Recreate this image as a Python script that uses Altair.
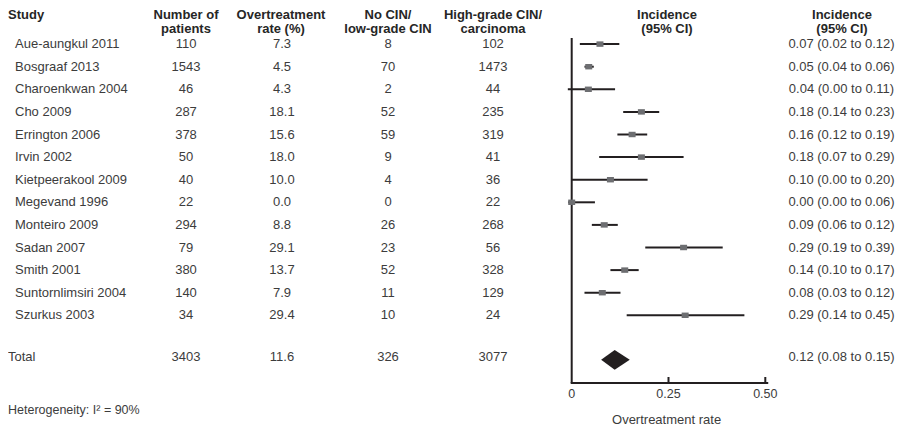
import altair as alt
import pandas as pd

# ---------------- data ----------------
studies = ["Aue-aungkul 2011", "Bosgraaf 2013", "Charoenkwan 2004", "Cho 2009",
           "Errington 2006", "Irvin 2002", "Kietpeerakool 2009", "Megevand 1996",
           "Monteiro 2009", "Sadan 2007", "Smith 2001", "Suntornlimsiri 2004",
           "Szurkus 2003"]
patients = [110, 1543, 46, 287, 378, 50, 40, 22, 294, 79, 380, 140, 34]
overtreat = [7.3, 4.5, 4.3, 18.1, 15.6, 18.0, 10.0, 0.0, 8.8, 29.1, 13.7, 7.9, 29.4]
no_cin = [8, 70, 2, 52, 59, 9, 4, 0, 26, 23, 52, 11, 10]
high_grade = [102, 1473, 44, 235, 319, 41, 36, 22, 268, 56, 328, 129, 24]
inc_est = [0.073, 0.044, 0.043, 0.180, 0.156, 0.180, 0.100, 0.000, 0.084, 0.289, 0.137, 0.079, 0.293]
inc_lo = [0.021, 0.033, -0.010, 0.133, 0.118, 0.071, 0.000, -0.009, 0.052, 0.190, 0.100, 0.033, 0.142]
inc_hi = [0.123, 0.057, 0.112, 0.226, 0.195, 0.289, 0.196, 0.060, 0.119, 0.390, 0.173, 0.126, 0.446]
inc_text = ["0.07 (0.02 to 0.12)", "0.05 (0.04 to 0.06)", "0.04 (0.00 to 0.11)",
            "0.18 (0.14 to 0.23)", "0.16 (0.12 to 0.19)", "0.18 (0.07 to 0.29)",
            "0.10 (0.00 to 0.20)", "0.00 (0.00 to 0.06)", "0.09 (0.06 to 0.12)",
            "0.29 (0.19 to 0.39)", "0.14 (0.10 to 0.17)", "0.08 (0.03 to 0.12)",
            "0.29 (0.14 to 0.45)"]

total_name = ["Total"]
total_patients = [3403]
total_overtreat = [11.6]
total_no_cin = [326]
total_high_grade = [3077]
total_est = [0.111]
total_lo = [0.076]
total_hi = [0.150]
total_text = ["0.12 (0.08 to 0.15)"]

heterogeneity = "Heterogeneity: I\u00b2 = 90%"
axis_values = [0, 0.25, 0.5]
axis_labels = ["0", "0.25", "0.50"]
axis_title = "Overtreatment rate"

# ---------------- tables ----------------
TOTAL_ROW = 13.85
rows = pd.DataFrame({
    "row": list(range(len(studies))),
    "study": studies,
    "n": [str(v) for v in patients],
    "rate": [f"{v:.1f}" for v in overtreat],
    "nocin": [str(v) for v in no_cin],
    "hg": [str(v) for v in high_grade],
    "est": inc_est, "lo": inc_lo, "hi": inc_hi,
    "ci": inc_text,
})
tot = pd.DataFrame({
    "row": [TOTAL_ROW],
    "study": total_name,
    "n": [str(v) for v in total_patients],
    "rate": [f"{v:.1f}" for v in total_overtreat],
    "nocin": [str(v) for v in total_no_cin],
    "hg": [str(v) for v in total_high_grade],
    "ci": total_text,
})
DC = 13.97  # vertical centre of the summary diamond, in row units
DH = 0.44   # half height of the summary diamond, in row units
diamond = pd.DataFrame({
    "x": [total_lo[0], total_est[0], total_hi[0]],
    "y": [DC, DC - DH, DC],
    "y2": [DC, DC + DH, DC],
})
ticks = pd.DataFrame({"v": axis_values, "lab": axis_labels})
one = pd.DataFrame({"a": [0]})

# ---------------- styles ----------------
FONT = "Liberation Sans, Arial, Helvetica, sans-serif"
TXT = "#3c3c3c"
HDR = "#262626"
INK = "#231f20"
BOX = "#6d6e71"

xs = alt.Scale(domain=[0, 0.5], range=[563.7, 757.3], nice=False, zero=False)
ys = alt.Scale(domain=[0, 12], range=[36.1, 307.3], nice=False, zero=False)
Y = alt.Y("row:Q", scale=ys, axis=None)
AXIS_Y = 375


def col(df, field, px, align="center"):
    return alt.Chart(df).mark_text(
        align=align, baseline="middle", fontSize=13, font=FONT, color=TXT
    ).encode(x=alt.value(px), y=Y, text=f"{field}:N")


def header(text, px, align="center"):
    return alt.Chart(one).mark_text(
        text=text, lineBreak="\n", lineHeight=14, align=align, baseline="middle",
        fontSize=13, font=FONT, fontWeight="bold", color=HDR
    ).encode(x=alt.value(px), y=alt.value(6.5))


layers = []
# headers
layers += [
    header("Study", 0, "left"),
    header("Number of\npatients", 178),
    header("Overtreatment\nrate (%)", 273),
    header("No CIN/\nlow-grade CIN", 380),
    header("High-grade CIN/\ncarcinoma", 485),
    header("Incidence\n(95% CI)", 659),
    header("Incidence\n(95% CI)", 834),
]
# table columns
layers += [col(rows, "study", 7, "left"), col(tot, "study", 0, "left")]
for d in (rows, tot):
    layers += [col(d, "n", 178), col(d, "rate", 274), col(d, "nocin", 380),
               col(d, "hg", 485), col(d, "ci", 833.5)]

# forest: zero line
layers.append(alt.Chart(one).mark_rule(color=INK, strokeWidth=2).encode(
    x=alt.X(datum=0, type="quantitative", scale=xs, axis=None),
    y=alt.value(30), y2=alt.value(AXIS_Y)))
# axis line
layers.append(alt.Chart(one).mark_rule(color=INK, strokeWidth=2, strokeCap="square").encode(
    x=alt.X(datum=0, type="quantitative", scale=xs, axis=None),
    x2=alt.X2(datum=0.505),
    y=alt.value(AXIS_Y)))
# inward ticks
layers.append(alt.Chart(ticks).transform_filter("datum.v > 0").mark_rule(
    color=INK, strokeWidth=2).encode(
    x=alt.X("v:Q", scale=xs, axis=None),
    y=alt.value(AXIS_Y - 6), y2=alt.value(AXIS_Y)))
# tick labels
layers.append(alt.Chart(ticks).mark_text(
    baseline="middle", align="center", fontSize=12.5, font=FONT, color=TXT).encode(
    x=alt.X("v:Q", scale=xs, axis=None), y=alt.value(386), text="lab:N"))
# axis title
layers.append(alt.Chart(one).mark_text(
    text=axis_title, baseline="alphabetic", align="center", fontSize=13, font=FONT,
    color=TXT).encode(
    x=alt.X(datum=0.245, type="quantitative", scale=xs, axis=None), y=alt.value(415.5)))
# heterogeneity note
layers.append(alt.Chart(one).mark_text(
    text=heterogeneity, baseline="middle", align="left", fontSize=12.5, font=FONT,
    color=TXT).encode(x=alt.value(0), y=alt.value(402)))
# CI lines
layers.append(alt.Chart(rows).mark_rule(color=INK, strokeWidth=2).encode(
    x=alt.X("lo:Q", scale=xs, axis=None), x2="hi:Q", y=Y))
# study squares
layers.append(alt.Chart(rows).mark_point(
    shape="M-1,-0.78L1,-0.78L1,0.78L-1,0.78Z", size=49, filled=True,
    opacity=1, color=BOX).encode(
    x=alt.X("est:Q", scale=xs, axis=None), y=Y))
# summary diamond
layers.append(alt.Chart(diamond).mark_area(
    orient="vertical", color=INK, opacity=1).encode(
    x=alt.X("x:Q", scale=xs, axis=None),
    y=alt.Y("y:Q", scale=ys, axis=None), y2="y2:Q"))

chart = alt.layer(*layers).properties(
    width=887, height=AXIS_Y,
    autosize=alt.AutoSizeParams(type="none"),
    padding={"left": 0, "top": 0, "right": 0, "bottom": 43},
).configure_view(stroke=None)

chart.save("out.html", embed_options={"renderer": "svg", "actions": False})
